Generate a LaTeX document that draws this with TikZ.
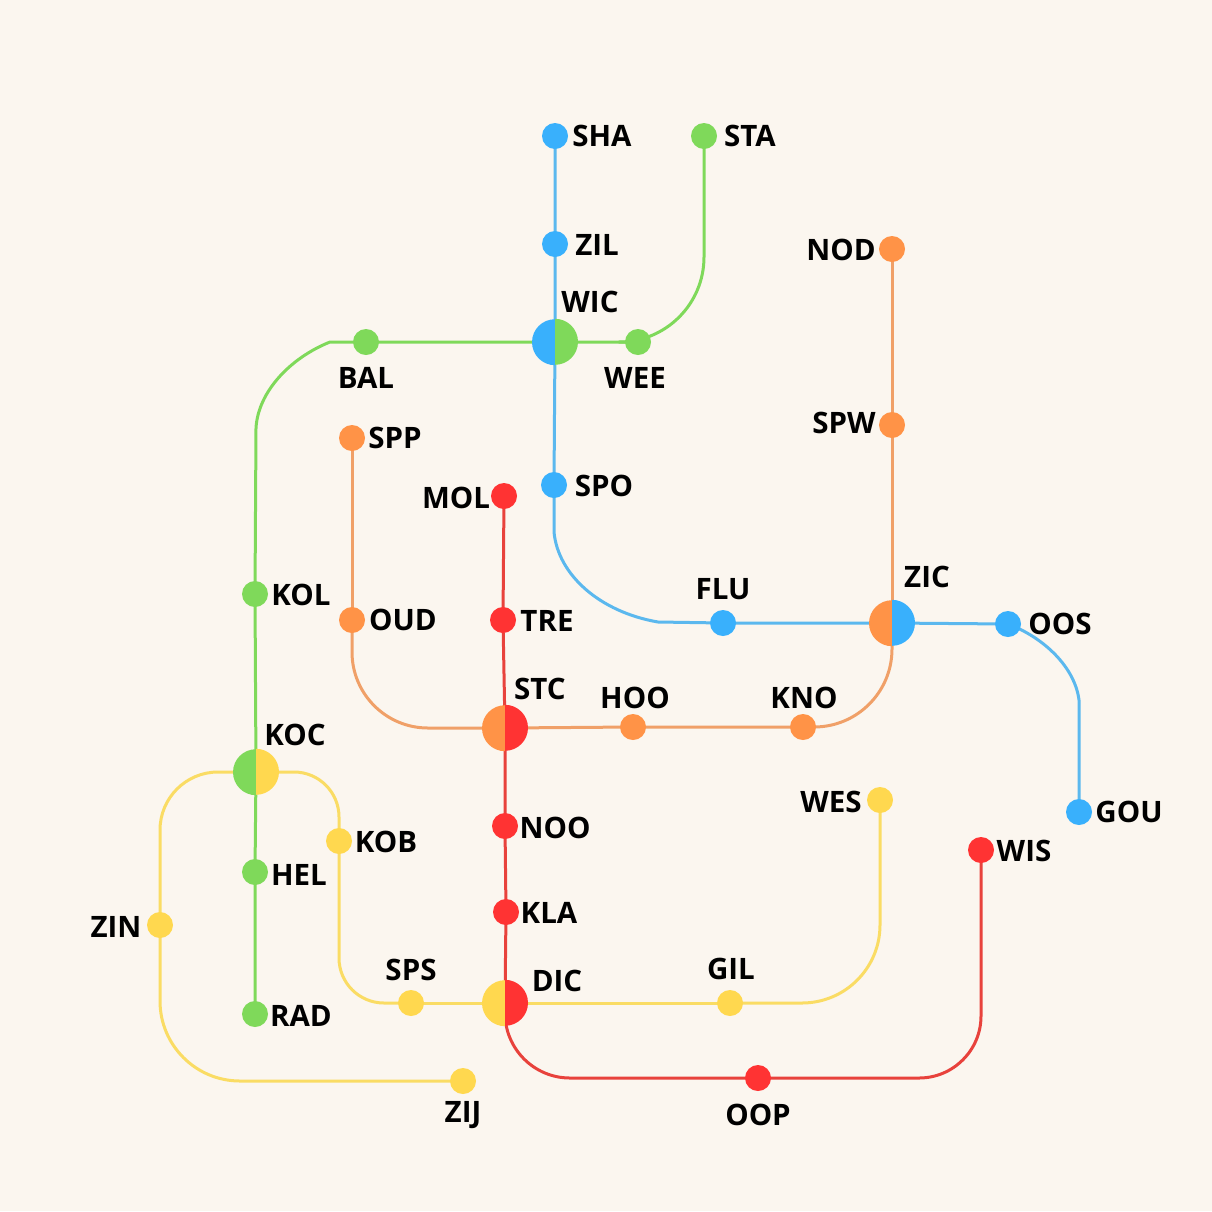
\documentclass[tikz,border=0pt]{standalone}
\usepackage{fontspec}
\setmainfont{Open Sans}
\usetikzlibrary{backgrounds}

\definecolor{paper}{HTML}{FBF6EF}
\definecolor{lblue}{HTML}{39B0FC}
\definecolor{lgreen}{HTML}{7FD95A}
\definecolor{lorange}{HTML}{FF9347}
\definecolor{lred}{HTML}{FF3333}
\definecolor{lyellow}{HTML}{FFD84F}
\definecolor{linkblue}{HTML}{5BB8EE}
\definecolor{linkorange}{HTML}{F0A068}
\definecolor{linkred}{HTML}{E8423C}
\definecolor{linkyellow}{HTML}{FADC64}

\tikzset{
    stn/.style={circle, inner sep=0pt, minimum size=26pt},
    hub/.style={circle, inner sep=0pt, minimum size=46pt},
    stntext/.style={font=\bfseries\fontsize{29.5}{29.5}\selectfont, text=black, inner sep=0pt},
    line/.style={line width=3pt, line join=round},
}

% half and half disc for the changes between two lines
\newcommand{\hubdisc}[3]{
    \fill [fill=#2] (#1.south) arc (-90:-270:23pt) -- cycle;
    \fill [fill=#3] (#1.north) arc (90:-90:23pt) -- cycle;
}

\begin{document}
\begin{tikzpicture}[x=1pt, y=-1pt]
    \useasboundingbox (0,0) rectangle (1212,1211);

    % blue
    \node[stn, fill=lblue] (sha) at (555,136) {};
    \node[stn, fill=lblue] (zil) at (555,244) {};
    \node[stn, fill=lblue] (spo) at (554,485) {};
    \node[stn, fill=lblue] (flu) at (723,623) {};
    \node[stn, fill=lblue] (oos) at (1008,624) {};
    \node[stn, fill=lblue] (gou) at (1079,812) {};
    % green
    \node[stn, fill=lgreen] (sta) at (704,136) {};
    \node[stn, fill=lgreen] (wee) at (638,342) {};
    \node[stn, fill=lgreen] (bal) at (366,342) {};
    \node[stn, fill=lgreen] (kol) at (255,594) {};
    \node[stn, fill=lgreen] (hel) at (255,872) {};
    \node[stn, fill=lgreen] (rad) at (255,1014) {};
    % orange
    \node[stn, fill=lorange] (nod) at (892,249) {};
    \node[stn, fill=lorange] (spw) at (892,425) {};
    \node[stn, fill=lorange] (kno) at (803,727) {};
    \node[stn, fill=lorange] (hoo) at (633,727) {};
    \node[stn, fill=lorange] (oud) at (352,620) {};
    \node[stn, fill=lorange] (spp) at (352,438) {};
    % red
    \node[stn, fill=lred] (mol) at (504,496) {};
    \node[stn, fill=lred] (tre) at (503,620) {};
    \node[stn, fill=lred] (noo) at (505,826) {};
    \node[stn, fill=lred] (kla) at (506,912) {};
    \node[stn, fill=lred] (oop) at (758,1078) {};
    \node[stn, fill=lred] (wis) at (981,850) {};
    % yellow
    \node[stn, fill=lyellow] (wes) at (880,800) {};
    \node[stn, fill=lyellow] (gil) at (730,1003) {};
    \node[stn, fill=lyellow] (sps) at (411,1003) {};
    \node[stn, fill=lyellow] (kob) at (339,841) {};
    \node[stn, fill=lyellow] (zin) at (160,925) {};
    \node[stn, fill=lyellow] (zij) at (463,1081) {};
    % changes
    \node[hub] (wic) at (555,342) {};
    \node[hub] (zic) at (892,623) {};
    \node[hub] (stc) at (505,728) {};
    \node[hub] (koc) at (256,772) {};
    \node[hub] (dic) at (505,1003) {};
    \hubdisc{wic}{lblue}{lgreen}
    \hubdisc{zic}{lorange}{lblue}
    \hubdisc{stc}{lorange}{lred}
    \hubdisc{koc}{lgreen}{lyellow}
    \hubdisc{dic}{lyellow}{lred}

    % where the flatter bends start and end
    \coordinate (spobend) at (554,532);
    \coordinate (flubend) at (658,622);
    \coordinate (goubend) at (1079,700);
    \coordinate (balbend) at (330,342);
    \coordinate (kolbend) at (256,428);

    \begin{scope}[on background layer]
        \fill [fill=paper] (0,0) rectangle (1212,1211);

        \draw[line, linkblue] (sha.center) -- (zil.center) -- (wic.center) -- (spo.center) -- (spobend)
            .. controls (558,575) and (600,612) .. (flubend) -- (flu.center);
        \draw[line, linkblue] (flu.center) -- (zic.center) -- (oos.center)
            .. controls (1045,638) and (1075,668) .. (goubend) -- (gou.center);

        \draw[line, lgreen, rounded corners=85pt] (sta.center) |- (wee.center);
        \draw[line, lgreen] (wee.center) -- (wic.center) -- (bal.center) -- (balbend)
            .. controls (290,358) and (258,392) .. (kolbend) -- (kol.center);
        \draw[line, lgreen] (kol.center) -- (koc.center) -- (hel.center) -- (rad.center);

        \draw[line, linkorange] (nod.center) -- (spw.center) -- (zic.center);
        \draw[line, linkorange, rounded corners=78pt] (zic.center) |- (kno.center);
        \draw[line, linkorange] (kno.center) -- (hoo.center) -- (stc.center);
        \draw[line, linkorange, rounded corners=76pt] (stc.center) -| (oud.center);
        \draw[line, linkorange] (oud.center) -- (spp.center);

        \draw[line, linkred] (mol.center) -- (tre.center) -- (stc.center) -- (noo.center) -- (kla.center) -- (dic.center);
        \draw[line, linkred, rounded corners=65pt] (dic.center) |- (oop.center);
        \draw[line, linkred, rounded corners=62pt] (oop.center) -| (wis.center);

        \draw[line, linkyellow, rounded corners=78pt] (wes.center) |- (gil.center);
        \draw[line, linkyellow] (gil.center) -- (dic.center) -- (sps.center);
        \draw[line, linkyellow, rounded corners=45pt] (sps.center) -| (kob.center);
        \draw[line, linkyellow, rounded corners=45pt] (kob.center) |- (koc.center);
        \draw[line, linkyellow, rounded corners=58pt] (koc.center) -| (zin.center);
        \draw[line, linkyellow, rounded corners=80pt] (zin.center) |- (zij.center);
    \end{scope}

    % labels
    \node[stntext] (shatext) at (602,136) {SHA};
    \node[stntext] (statext) at (750,136) {STA};
    \node[stntext] (ziltext) at (597,245) {ZIL};
    \node[stntext] (nodtext) at (841,250) {NOD};
    \node[stntext] (wictext) at (590,302) {WIC};
    \node[stntext] (baltext) at (366,378) {BAL};
    \node[stntext] (weetext) at (635,378) {WEE};
    \node[stntext] (spwtext) at (844,423) {SPW};
    \node[stntext] (spptext) at (395,438) {SPP};
    \node[stntext] (moltext) at (456,498) {MOL};
    \node[stntext] (spotext) at (604,486) {SPO};
    \node[stntext] (zictext) at (927,577) {ZIC};
    \node[stntext] (flutext) at (723,589) {FLU};
    \node[stntext] (koltext) at (301,595) {KOL};
    \node[stntext] (oudtext) at (403,620) {OUD};
    \node[stntext] (tretext) at (547,621) {TRE};
    \node[stntext] (oostext) at (1060,624) {OOS};
    \node[stntext] (stctext) at (540,689) {STC};
    \node[stntext] (hootext) at (635,698) {HOO};
    \node[stntext] (knotext) at (804,698) {KNO};
    \node[stntext] (koctext) at (295,735) {KOC};
    \node[stntext] (westext) at (831,802) {WES};
    \node[stntext] (goutext) at (1129,812) {GOU};
    \node[stntext] (nootext) at (555,828) {NOO};
    \node[stntext] (kobtext) at (386,842) {KOB};
    \node[stntext] (wistext) at (1024,851) {WIS};
    \node[stntext] (heltext) at (299,875) {HEL};
    \node[stntext] (klatext) at (549,913) {KLA};
    \node[stntext] (zintext) at (116,927) {ZIN};
    \node[stntext] (spstext) at (411,970) {SPS};
    \node[stntext] (giltext) at (731,969) {GIL};
    \node[stntext] (dictext) at (557,981) {DIC};
    \node[stntext] (radtext) at (301,1016) {RAD};
    \node[stntext] (zijtext) at (463,1115) {ZIJ};
    \node[stntext] (ooptext) at (758,1115) {OOP};
\end{tikzpicture}
\end{document}
